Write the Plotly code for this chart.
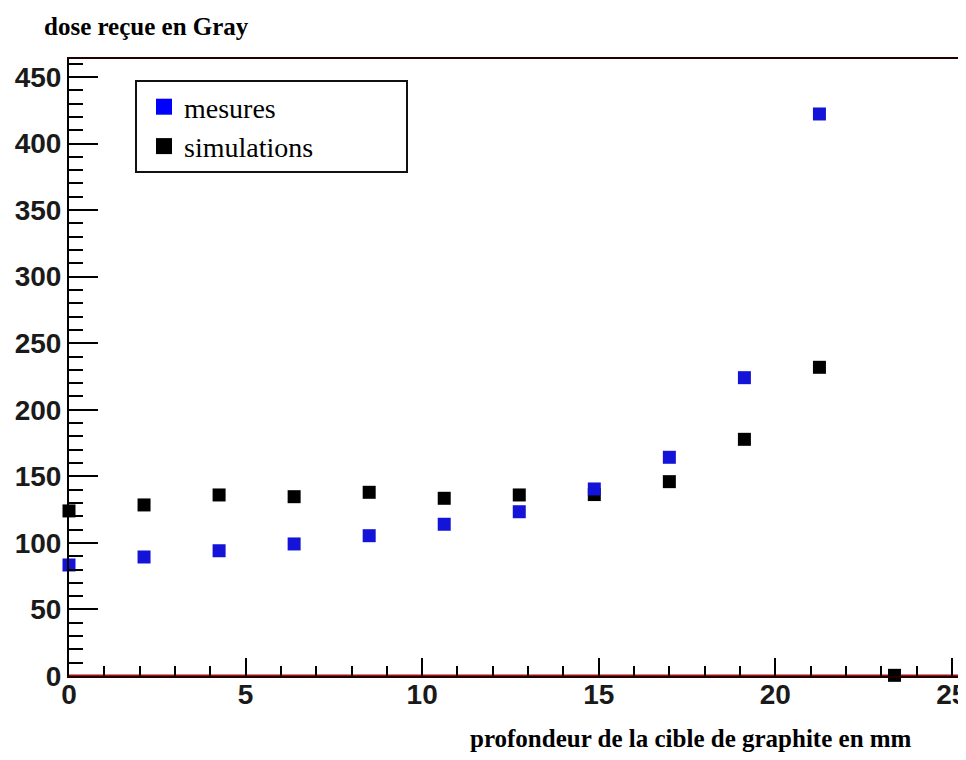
import plotly.graph_objects as go

depth_mm = [0, 2.125, 4.25, 6.375, 8.5, 10.625, 12.75, 14.875, 17.0, 19.125, 21.25]
dose_mesures = [83.4, 89.4, 94.1, 99.2, 105.4, 114.0, 123.4, 140.5, 164.3, 224.1, 422.2]

depth_sim_mm = [0, 2.125, 4.25, 6.375, 8.5, 10.625, 12.75, 14.875, 17.0, 19.125, 21.25, 23.375]
dose_simulations = [124.0, 128.5, 136.0, 134.7, 138.0, 133.5, 136.0, 136.3, 146.0, 177.8, 231.9, 0.5]

x_ticks = [0, 5, 10, 15, 20, 25]
y_ticks = [0, 50, 100, 150, 200, 250, 300, 350, 400, 450]

BLUE = "#1414d8"
PAGE_OFF = 8  # default body margin of the html page
FIG_W, FIG_H = 966 - PAGE_OFF, 760 - 2 * PAGE_OFF
# plot area in screen pixels
SL, ST, SW, SH = 69, 59, 897, 617


def px(xs):
    return (xs - SL) / SW


def py(ys):
    return (ST + SH - ys) / SH


fig = go.Figure()
fig.add_trace(go.Scatter(
    x=depth_sim_mm, y=dose_simulations, mode="markers", name="simulations",
    marker=dict(symbol="square", size=13, color="#000000", line=dict(width=0)),
    cliponaxis=False, showlegend=False,
))
fig.add_trace(go.Scatter(
    x=depth_mm, y=dose_mesures, mode="markers", name="mesures",
    marker=dict(symbol="square", size=13, color=BLUE, line=dict(width=0)),
    cliponaxis=False, showlegend=False,
))
# legend entries (larger symbols as in the reference legend)
fig.add_trace(go.Scatter(
    x=[None], y=[None], mode="markers", name="mesures",
    marker=dict(symbol="square", size=16, color="#0000ff", line=dict(width=0)),
))
fig.add_trace(go.Scatter(
    x=[None], y=[None], mode="markers", name="simulations",
    marker=dict(symbol="square", size=16, color="#000000", line=dict(width=0)),
))

# red line at zero
fig.add_shape(type="line", xref="paper", yref="y", x0=0, x1=1, y0=0, y1=0,
              line=dict(color="#a01010", width=3), layer="below")
# legend box
fig.add_shape(type="rect", xref="paper", yref="paper",
              x0=px(136), x1=px(407), y0=py(172), y1=py(81),
              line=dict(color="#111111", width=2), fillcolor="white", layer="below")

tick_font = dict(family="Liberation Sans", size=28, color="#1a1a1a", weight="bold")

left = SL - PAGE_OFF
top = ST - PAGE_OFF
fig.update_layout(
    width=FIG_W, height=FIG_H,
    margin=dict(l=left, r=FIG_W - left - SW, t=top, b=FIG_H - top - SH, autoexpand=False),
    paper_bgcolor="white", plot_bgcolor="white",
    showlegend=True,
    legend=dict(
        x=px(144), y=py(82), xanchor="left", yanchor="top",
        bgcolor="rgba(0,0,0,0)", borderwidth=0,
        font=dict(family="Liberation Serif", size=28, color="black"),
        traceorder="normal", tracegroupgap=0, itemwidth=30,
    ),
    xaxis=dict(
        range=[0, 25.4], tickvals=x_ticks, ticktext=[str(v) for v in x_ticks],
        ticks="inside", ticklen=18, tickwidth=2, tickcolor="black",
        minor=dict(dtick=1, ticks="inside", ticklen=10, tickwidth=2, tickcolor="black"),
        showline=True, linecolor="#220000", linewidth=2, mirror=True,
        showgrid=False, zeroline=False, tickfont=tick_font, automargin=False,
        ticklabeloverflow="allow", ticklabelstandoff=-8,
    ),
    yaxis=dict(
        range=[0, 463.5], tickvals=y_ticks, ticktext=[str(v) for v in y_ticks],
        ticks="inside", ticklen=29, tickwidth=2, tickcolor="black",
        minor=dict(dtick=10, ticks="inside", ticklen=14, tickwidth=2, tickcolor="black"),
        showline=True, linecolor="black", linewidth=2,
        showgrid=False, zeroline=False, tickfont=tick_font, ticklabelstandoff=0,
        automargin=False, ticklabeloverflow="allow",
    ),
    annotations=[
        dict(text="<b>dose reçue en Gray</b>", xref="paper", yref="paper",
             x=px(42), y=py(26), xanchor="left", yanchor="middle",
             showarrow=False, font=dict(family="Liberation Serif", size=25, color="black")),
        dict(text="<b>profondeur de la cible de graphite en mm</b>", xref="paper", yref="paper",
             x=px(914), y=py(738), xanchor="right", yanchor="middle",
             showarrow=False, font=dict(family="Liberation Serif", size=25, color="black")),
    ],
)

fig.write_html("out.html")
